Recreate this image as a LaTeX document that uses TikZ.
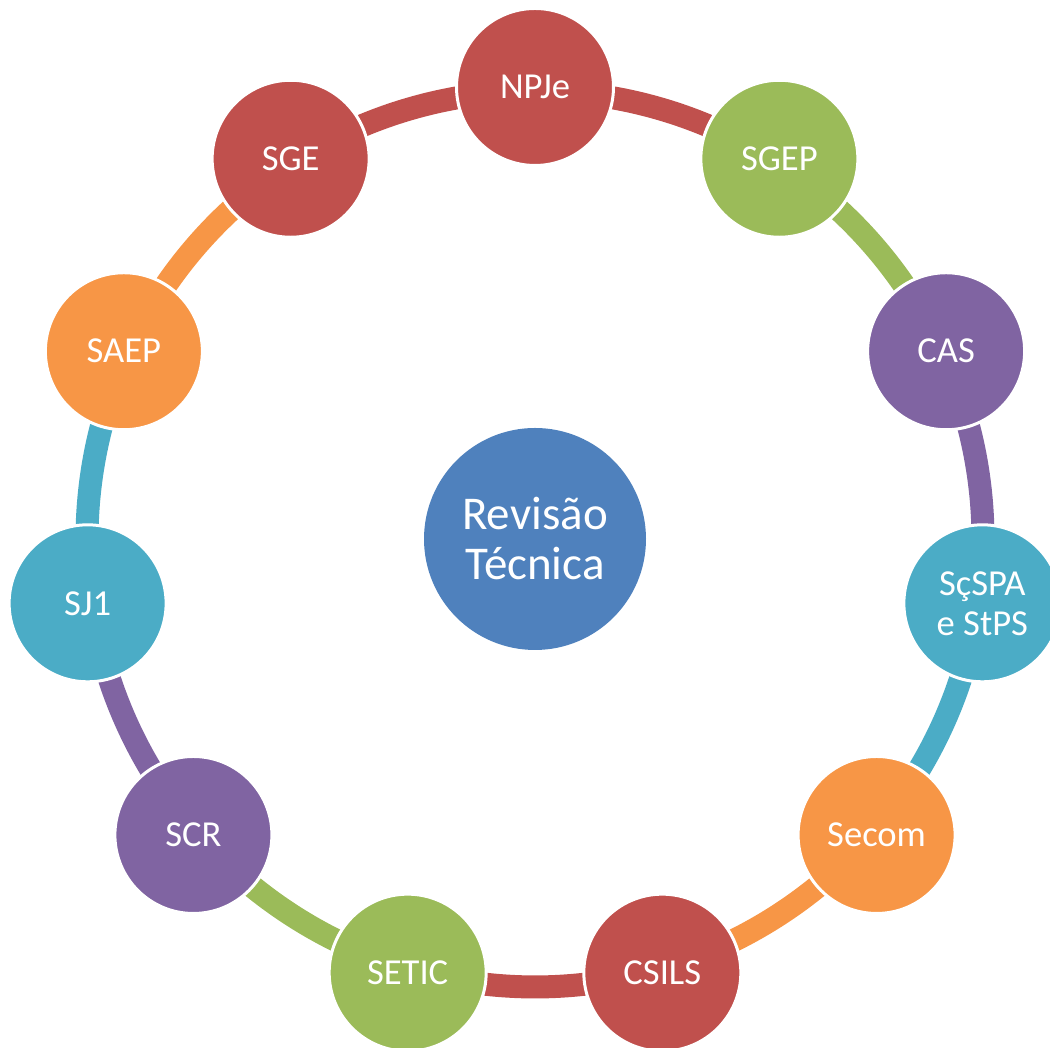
\documentclass[tikz,border=0pt]{standalone}
\usepackage{fontspec}
\setmainfont{Carlito}
\usetikzlibrary{backgrounds}
\definecolor{cRed}{HTML}{C0504D}
\definecolor{cGreen}{HTML}{9BBB59}
\definecolor{cPurple}{HTML}{8064A2}
\definecolor{cTeal}{HTML}{4BACC6}
\definecolor{cOrange}{HTML}{F79646}
\definecolor{cBlue}{HTML}{4F81BD}
\begin{document}
\begin{tikzpicture}[x=0.5pt,y=0.5pt,
  member/.style={circle, draw=white, line width=1.5pt, minimum size=78.5pt,
    inner sep=0pt, text=white, align=center,
    font=\fontsize{18.3}{20}\selectfont},
  hub/.style={circle, fill=cBlue, minimum size=111pt, inner sep=0pt,
    text=white, align=center, font=\fontsize{23.5}{25}\selectfont},
  link/.style={line width=11.5pt}]
\useasboundingbox (0,0) rectangle (1050,1048);
\coordinate (o) at (535,509);

% central hub
\node[hub] (hub) at (o) {Revisão\\Técnica};

% members around the ring, clockwise from the top
\node[member, fill=cRed]    (m0)  at ([shift={(90:452)}]o) {NPJe};
\node[member, fill=cGreen]  (m1)  at ([shift={(90-1*360/11:452)}]o) {SGEP};
\node[member, fill=cPurple] (m2)  at ([shift={(90-2*360/11:452)}]o) {CAS};
\node[member, fill=cTeal]   (m3)  at ([shift={(90-3*360/11:452)}]o) {SçSPA\\e StPS};
\node[member, fill=cOrange] (m4)  at ([shift={(90-4*360/11:452)}]o) {Secom};
\node[member, fill=cRed]    (m5)  at ([shift={(90-5*360/11:452)}]o) {CSILS};
\node[member, fill=cGreen]  (m6)  at ([shift={(90-6*360/11:452)}]o) {SETIC};
\node[member, fill=cPurple] (m7)  at ([shift={(90-7*360/11:452)}]o) {SCR};
\node[member, fill=cTeal]   (m8)  at ([shift={(90-8*360/11:452)}]o) {SJ1};
\node[member, fill=cOrange] (m9)  at ([shift={(90-9*360/11:452)}]o) {SAEP};
\node[member, fill=cRed]    (m10) at ([shift={(90-10*360/11:452)}]o) {SGE};

% ring segments (radius 448, just inside the member centres),
% each in the colour of the member it leaves
\begin{scope}[on background layer]
\foreach \i/\c in {0/cRed,1/cGreen,2/cPurple,3/cTeal,4/cOrange,5/cRed,
                   6/cGreen,7/cPurple,8/cTeal,9/cOrange,10/cRed}{
  \pgfmathsetmacro{\a}{90-\i*360/11}
  \draw[link, draw=\c] ([shift={(\a:-4)}]m\i.center)
    arc[start angle=\a, delta angle={-360/11}, radius=448];
}
\end{scope}
\end{tikzpicture}
\end{document}
